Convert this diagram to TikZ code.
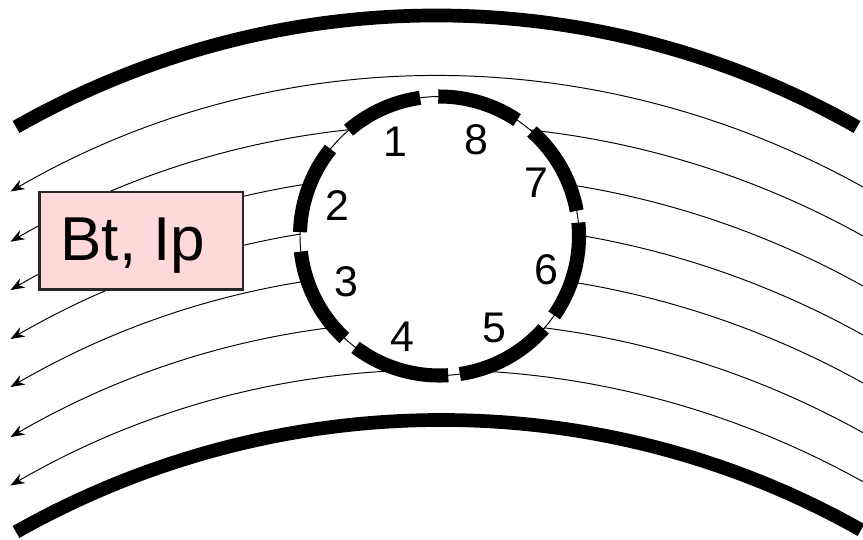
\documentclass[tikz,border=0pt]{standalone}
\usepackage{fontspec}
\setmainfont{Liberation Sans}
\usetikzlibrary{arrows.meta}
\definecolor{boxpink}{RGB}{255,217,217}
\tikzset{
  wall/.style     = {line width=7.8pt},
  fieldline/.style= {line width=0.55pt, -{Stealth[length=8pt, width=6pt]}},
  ringline/.style = {line width=0.55pt, fill=white},
  segment/.style  = {line width=8pt},
  infobox/.style  = {draw=black!85, line width=1.4pt, fill=boxpink, minimum width=4.07cm, minimum height=1.95cm},
  boxtext/.style  = {inner sep=0pt, font=\fontsize{35.3}{40}\selectfont},
  probe/.style    = {inner sep=0pt, font=\fontsize{24.4}{28}\selectfont}
}

\begin{document}
\begin{tikzpicture}[x=0.02cm, y=0.02cm]
  \useasboundingbox (0,0) rectangle (863,539);
  % field lines
  \foreach \i/\ry/\ly in {1/352/347.5, 2/303/297.3, 3/253/249, 4/204/200, 5/156/152, 6/106.3/102, 7/57.3/53.5} {
    \coordinate (right\i) at (863,\ry);
    \coordinate (left\i) at (10.5,\ly);
    \draw[fieldline] (right\i) .. controls +(-266,148) and +(266,154) .. (left\i);
  }
  % walls
  \coordinate (topL) at (16,412);
  \coordinate (topR) at (857,412);
  \coordinate (botL) at (16,7);
  \coordinate (botR) at (861,9);
  \draw[wall] (topL) .. controls +(262,148.7) and +(-262,148.7) .. (topR);
  \draw[wall] (botL) .. controls +(262,148) and +(-262,148) .. (botR);
  % ring
  \coordinate (ring) at (439.5,303);
  \draw[ringline] (ring) circle[radius=139.5];
  \foreach \a/\b in {98/130.7, 141.4/178.4, 186.4/227, 233/273.6, 278.4/318.3, 325.3/365.5, 370.4/408.5, 416.2/450.5} {
    \draw[segment] (ring) ++(\a:139.5) arc[start angle=\a, end angle=\b, radius=139.5];
  }
  % probe numbers
  \foreach \n/\x/\y in {1/395/397, 2/337/333, 3/346/257, 4/402/202, 5/494/211, 6/546/269, 7/536/356, 8/476/399} {
    \node[probe] (num\n) at (\x,\y) {\n};
  }
  \node[infobox] (box) at (141.25,298.25) {};
  \node[boxtext] (label) at (133,293) {Bt, Ip};
\end{tikzpicture}
\end{document}
